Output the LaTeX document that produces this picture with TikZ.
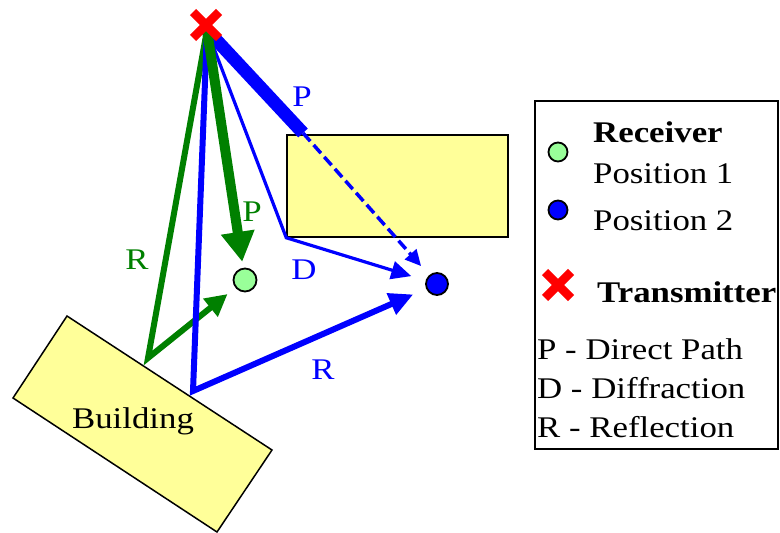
\documentclass[tikz,border=0pt]{standalone}
\usepackage{fontspec}
\setmainfont{Liberation Serif}[FakeStretch=1.16]
\usetikzlibrary{arrows.meta,shapes.misc}
\definecolor{PathBlue}{RGB}{0,0,255}
\definecolor{PathGreen}{RGB}{0,128,0}
\definecolor{WallYellow}{RGB}{255,255,153}
\definecolor{RxGreen}{RGB}{153,255,153}
\definecolor{TxRed}{RGB}{255,0,0}

\begin{document}
\begin{tikzpicture}[x=1pt,y=-1pt,>=Latex,
    every node/.style={font=\fontsize{30}{32}\selectfont},
    txt/.style={inner sep=0pt,anchor=base west},
    lbl/.style={inner sep=0pt},
    wall/.style={draw,line width=1.5pt,fill=WallYellow},
    rx/.style={circle,draw,line width=1.8pt,minimum size=#1,inner sep=0pt},
    txmark/.style={cross out,draw=TxRed,line width=8.5pt,minimum size=#1,inner sep=0pt,outer sep=0pt}]
  \useasboundingbox (0,0) rectangle (780,533);
  % buildings
  \draw[wall] (67,316) -- (272,450) -- (217,532) -- (13,398) -- cycle;
  \node[txt,anchor=base] (bldgtext) at (133,428) {Building};
  \node[wall,minimum width=221pt,minimum height=102pt,inner sep=0pt] (bldgA) at (397.5,186) {};
  % transmitter and receivers
  \coordinate (tx) at (207,30);
  \coordinate (reflG) at (148,358);
  \coordinate (reflB) at (193,391);
  \coordinate (cutP) at (303,133);
  \node[rx=23pt,fill=RxGreen] (rx1) at (245,280) {};
  \node[rx=22pt,fill=PathBlue] (rx2) at (437,284) {};
  % propagation paths
  \draw[PathGreen,line width=6pt,-{Triangle[length=22pt,width=22pt]},shorten >=10pt] (tx) -- (reflG) -- (rx1);
  \draw[PathBlue,line width=6pt,-{Triangle[length=24pt,width=22pt]},shorten >=14pt] (tx) -- (reflB) -- (rx2);
  \draw[PathBlue,line width=3.2pt,-{Triangle[length=20pt,width=18pt]},shorten >=15pt] (tx) -- (bldgA.south west) -- (rx2);
  \draw[PathBlue,line width=13pt] (tx) -- (cutP);
  \draw[PathBlue,line width=3.5pt,dash pattern=on 11pt off 5pt,-{Triangle[length=16pt,width=15pt]},shorten >=12pt] (cutP) -- (rx2);
  \draw[PathGreen,line width=10pt,-{Triangle[length=30pt,width=32pt]},shorten >=6pt] (tx) -- (rx1);
  \node[txmark=26pt] (txsym) at (206,25) {};
  % path labels
  \node[lbl,PathBlue] (labPb) at (302,97) {P};
  \node[lbl,PathGreen] (labPg) at (252,212) {P};
  \node[lbl,PathGreen] (labRg) at (137,260) {R};
  \node[lbl,PathBlue] (labD) at (304,270) {D};
  \node[lbl,PathBlue] (labRb) at (323,370) {R};
  % legend
  \node[draw,line width=2pt,minimum width=243pt,minimum height=348pt,inner sep=0pt] (legend) at (656.5,275) {};
  \node[txt] (legRx) at (593,142) {\bfseries Receiver};
  \node[rx=19pt,fill=RxGreen] (legRx1) at (558,152) {};
  \node[txt] (legPos1) at (593,183) {Position 1};
  \node[rx=19pt,fill=PathBlue] (legRx2) at (558,210) {};
  \node[txt] (legPos2) at (593,230) {Position 2};
  \node[txmark=26pt] (legTx) at (558,285) {};
  \node[txt] (legTxt) at (597,302) {\bfseries Transmitter};
  \node[txt] (legP) at (537,359) {P - Direct Path};
  \node[txt] (legD) at (537,398) {D - Diffraction};
  \node[txt] (legR) at (537,437) {R - Reflection};
\end{tikzpicture}
\end{document}
